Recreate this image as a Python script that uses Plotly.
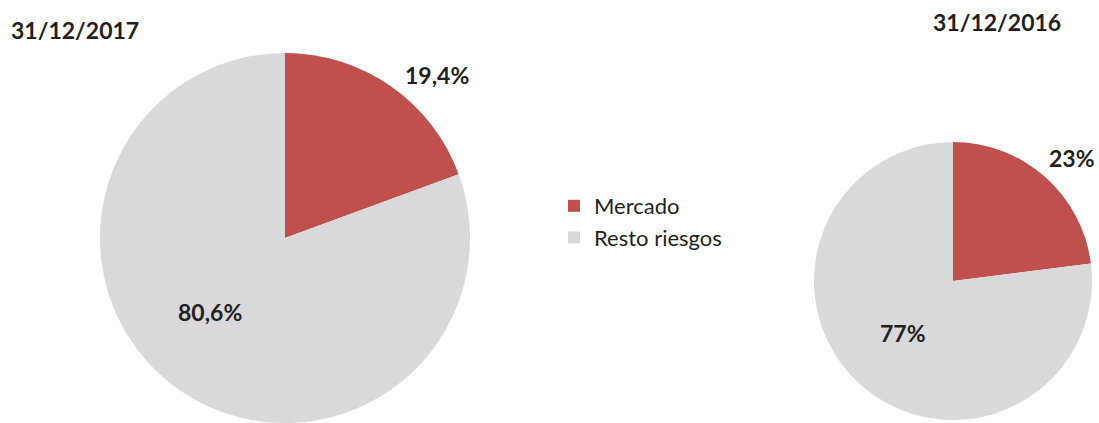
import plotly.graph_objects as go

categories = ["Mercado", "Resto riesgos"]
values_2017 = [19.4, 80.6]
values_2016 = [23, 77]
titles = ["31/12/2017", "31/12/2016"]
colors = ["#C0504D", "#D9D9DB"]

W, H = 1099, 423
FONT = "Lato, Carlito, Calibri, sans-serif"
TXT = "#231F20"

def fmt(v):
    s = ("%g" % v).replace(".", ",")
    return s + "%"

fig = go.Figure()
fig.add_trace(go.Pie(
    labels=categories, values=values_2017, sort=False, direction="clockwise",
    rotation=0, marker=dict(colors=colors, line=dict(width=0)),
    textinfo="none", hoverinfo="label+percent",
    domain=dict(x=[100 / W, 470 / W], y=[0, 370 / H]),
    showlegend=True,
))
fig.add_trace(go.Pie(
    labels=categories, values=values_2016, sort=False, direction="clockwise",
    rotation=0, marker=dict(colors=colors, line=dict(width=0)),
    textinfo="none", hoverinfo="label+percent",
    domain=dict(x=[814 / W, 1092 / W], y=[3 / H, 281 / H]),
    showlegend=False,
))

def px(x, y):
    return x / W, 1 - y / H

annos = [
    (titles[0], 75, 30, 23),
    (titles[1], 997, 22, 23),
    (fmt(values_2017[0]), 437, 75, 23),
    (fmt(values_2017[1]), 210, 312, 23),
    (fmt(values_2016[0]), 1072, 158, 23),
    (fmt(values_2016[1]), 903, 333, 23),
]
for text, x, y, size in annos:
    ax, ay = px(x, y)
    fig.add_annotation(
        x=ax, y=ay, xref="paper", yref="paper", text="<b>%s</b>" % text,
        showarrow=False, xanchor="center", yanchor="middle",
        font=dict(family=FONT, size=size, color=TXT),
    )

fig.update_layout(
    width=W, height=H,
    margin=dict(l=0, r=0, t=0, b=0),
    paper_bgcolor="white", plot_bgcolor="white",
    font=dict(family=FONT, color=TXT),
    legend=dict(
        x=554 / W, y=1 - 185 / H, xanchor="left", yanchor="top",
        font=dict(family=FONT, size=22, color=TXT),
        itemsizing="constant", tracegroupgap=0,
        bgcolor="rgba(0,0,0,0)",
    ),
)

fig.write_html(
    "out.html",
    config={"displayModeBar": False},
    post_script="document.body.style.margin='0';document.body.style.overflow='hidden';",
)
